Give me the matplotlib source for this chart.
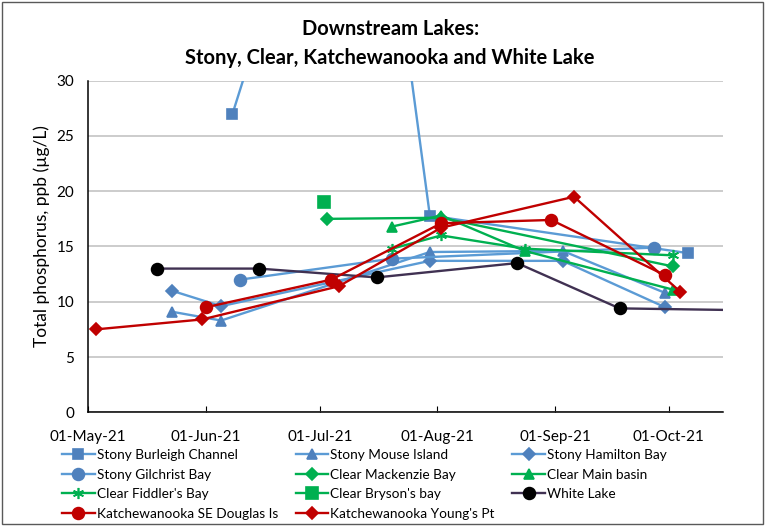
import matplotlib

matplotlib.use("Agg")
import matplotlib.pyplot as plt
import matplotlib.dates as mdates
import pandas as pd
from matplotlib.patches import Rectangle

plt.rcParams["font.family"] = ["Lato", "DejaVu Sans"]

# values (total phosphorus, ug/L)
burleigh_dates = ["2021-06-08", "2021-07-12", "2021-07-30", "2021-10-06"]
burleigh_tp = [27.0, 64.0, 17.8, 14.4]

mouse_dates = ["2021-05-23", "2021-06-05", "2021-07-30", "2021-09-03", "2021-09-30"]
mouse_tp = [9.1, 8.3, 14.5, 14.6, 10.8]

hamilton_dates = ["2021-05-23", "2021-06-05", "2021-07-30", "2021-09-03", "2021-09-30"]
hamilton_tp = [11.0, 9.6, 13.7, 13.7, 9.5]

gilchrist_dates = ["2021-06-10", "2021-07-20", "2021-09-27"]
gilchrist_tp = [12.0, 13.9, 14.9]

mackenzie_dates = ["2021-07-03", "2021-08-02", "2021-10-02"]
mackenzie_tp = [17.5, 17.6, 13.2]

main_dates = ["2021-07-20", "2021-08-02", "2021-08-24", "2021-10-02"]
main_tp = [16.8, 17.8, 14.6, 11.1]

fiddler_dates = ["2021-07-20", "2021-08-02", "2021-08-24", "2021-10-02"]
fiddler_tp = [14.8, 16.0, 14.8, 14.2]

bryson_dates = ["2021-07-02"]
bryson_tp = [19.0]

white_dates = ["2021-05-19", "2021-06-15", "2021-07-16", "2021-08-22", "2021-09-18", "2021-10-28"]
white_tp = [13.0, 13.0, 12.2, 13.5, 9.4, 9.2]

douglas_dates = ["2021-06-01", "2021-07-04", "2021-08-02", "2021-08-31", "2021-09-30"]
douglas_tp = [9.5, 12.0, 17.1, 17.4, 12.4]

youngs_dates = ["2021-05-03", "2021-05-31", "2021-07-06", "2021-08-02", "2021-09-06", "2021-10-04"]
youngs_tp = [7.5, 8.4, 11.4, 16.7, 19.5, 10.9]

BLUE_LINE = "#5B9BD5"
BLUE_MARK = "#4F81BD"
GREEN = "#00B050"
RED = "#C00000"
PURPLE = "#403152"

series = [
    ("Stony Burleigh Channel", burleigh_dates, burleigh_tp, BLUE_LINE, BLUE_MARK, "s", 6.5),
    ("Stony Mouse Island", mouse_dates, mouse_tp, BLUE_LINE, BLUE_MARK, "^", 7.5),
    ("Stony Hamilton Bay", hamilton_dates, hamilton_tp, BLUE_LINE, BLUE_MARK, "D", 6),
    ("Stony Gilchrist Bay", gilchrist_dates, gilchrist_tp, BLUE_LINE, BLUE_MARK, "o", 8.5),
    ("Clear Mackenzie Bay", mackenzie_dates, mackenzie_tp, GREEN, GREEN, "D", 6),
    ("Clear Main basin", main_dates, main_tp, GREEN, GREEN, "^", 7.5),
    ("Clear Fiddler's Bay", fiddler_dates, fiddler_tp, GREEN, GREEN, (6, 2, 0), 8),
    ("Clear Bryson's bay", bryson_dates, bryson_tp, GREEN, GREEN, "s", 8),
    ("White Lake", white_dates, white_tp, PURPLE, "black", "o", 8.5),
    ("Katchewanooka SE Douglas Is", douglas_dates, douglas_tp, RED, RED, "o", 8.5),
    ("Katchewanooka Young's Pt", youngs_dates, youngs_tp, RED, RED, "D", 6),
]

fig = plt.figure(figsize=(7.65, 5.26), dpi=100)
ax = fig.add_axes([0.1154, 0.2162, 0.8297, 0.6304])

handles = []
for name, dates, vals, lc, mc, mk, ms in series:
    (h,) = ax.plot(pd.to_datetime(dates), vals, color=lc, lw=1.7, marker=mk,
                   markersize=ms, markerfacecolor=mc, markeredgecolor=mc,
                   markeredgewidth=1.2, label=name, zorder=3)
    handles.append(h)

ax.set_xlim(pd.Timestamp("2021-05-01"), pd.Timestamp("2021-10-15 06:00"))
ax.set_ylim(0, 30)
ax.set_yticks(range(0, 31, 5))
ax.xaxis.set_major_locator(mdates.MonthLocator())
ax.xaxis.set_major_formatter(mdates.DateFormatter("%d-%b-%y"))
ax.grid(axis="y", color="#BFBFBF", lw=1.1, zorder=0)
ax.set_axisbelow(True)
for s in ("top", "right"):
    ax.spines[s].set_visible(False)
for s in ("left", "bottom"):
    ax.spines[s].set_color("black")
    ax.spines[s].set_linewidth(1.1)
ax.tick_params(axis="x", direction="in", length=4, labelsize=11, pad=13)
ax.tick_params(axis="y", length=0, labelsize=11, pad=10)
ax.set_ylabel("Total phosphorus, ppb (µg/L)", fontsize=12.5)
ax.yaxis.set_label_coords(-0.06, 0.53)

fig.text(0.51, 0.945, "Downstream Lakes:", ha="center", va="center",
         fontsize=14.5, fontweight="bold")
fig.text(0.51, 0.89, "Stony, Clear, Katchewanooka and White Lake",
         ha="center", va="center", fontsize=14.5, fontweight="bold")

# legend reads row by row in the reference, matplotlib fills columns first
order = [0, 3, 6, 9, 1, 4, 7, 10, 2, 5, 8]
fig.legend([handles[i] for i in order], [series[i][0] for i in order],
           ncol=3, loc="upper left", bbox_to_anchor=(0.081, 0.146),
           frameon=False, fontsize=9.8, handlelength=2.4, handletextpad=0.15,
           columnspacing=1.3, labelspacing=0.55, borderaxespad=0, borderpad=0)

fig.patches.append(Rectangle((0.002, 0.003), 0.996, 0.994, transform=fig.transFigure,
                             fill=False, edgecolor="#595959", lw=1.0))

fig.savefig("out.png", dpi=100)
